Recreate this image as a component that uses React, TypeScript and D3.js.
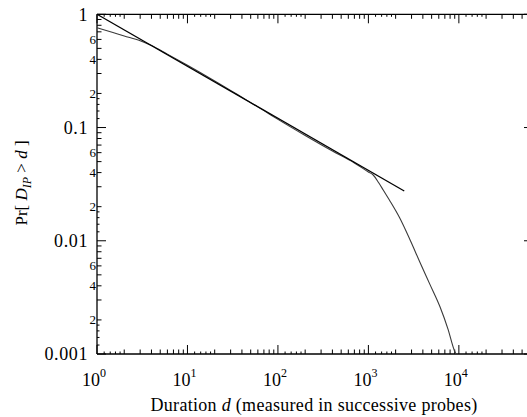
import React from "react";
import * as d3 from "d3";

// Empirical CCDF: duration d (probes) vs Pr[D_IP > d]
const durations = [1, 1.5, 2, 3, 4, 6, 10, 20, 40, 70, 100, 200, 400, 700, 1000, 1130, 1300, 1458, 1700, 2200, 2900, 3700, 4800, 6200, 7600, 8900, 9300];
const probs = [0.76, 0.69, 0.644, 0.585, 0.53, 0.445, 0.355, 0.258, 0.185, 0.141, 0.118, 0.085, 0.062, 0.0487, 0.0405, 0.0381, 0.0325, 0.0281, 0.023, 0.0161, 0.0101, 0.0065, 0.0041, 0.0026, 0.00165, 0.00108, 0.001];

// Power-law fit line endpoints
const fitX = [1, 2490];
const fitY = [1.0, 0.0275];

// Axis ticks
const xDecades = [0, 1, 2, 3, 4];
const yDecades = [0, -1, -2, -3];
const yMajorLabels = ["1", "0.1", "0.01", "0.001"];
const yMinorLabeled = [6, 4, 2];
const smallMultipliers = [1.2, 1.4, 1.6, 1.8];
const minorMultipliers = [2, 3, 4, 5, 6, 7, 8, 9];

const W = 527;
const H = 417;
const L = 97;
const R = 533;
const T = 14.3;
const B = 354;

export default function App() {
  const x = d3.scaleLog().domain([1, 66000]).range([L, R]);
  const y = d3.scaleLog().domain([0.001, 1]).range([B, T]);

  const font = "'Liberation Serif', 'Times New Roman', serif";

  const line = d3
    .line<number>()
    .x((_, i) => x(durations[i]))
    .y((_, i) => y(probs[i]))
    .curve(d3.curveMonotoneX);
  const curvePath = line(durations) || "";

  const fitPath = `M${x(fitX[0])},${y(fitY[0])}L${x(fitX[1])},${y(fitY[1])}`;

  const xTicks: { v: number; len: number }[] = [];
  for (let k = 0; k <= 4; k++) {
    const base = Math.pow(10, k);
    xTicks.push({ v: base, len: 9 });
    smallMultipliers.forEach((m) => xTicks.push({ v: m * base, len: 2.5 }));
    minorMultipliers.forEach((m) => xTicks.push({ v: m * base, len: 4.5 }));
  }
  const yTicks: { v: number; len: number }[] = [];
  for (let k = -3; k <= 0; k++) {
    const base = Math.pow(10, k);
    yTicks.push({ v: base, len: 9 });
    if (k < 0) {
      smallMultipliers.forEach((m) => yTicks.push({ v: m * base, len: 2.5 }));
      minorMultipliers.forEach((m) => yTicks.push({ v: m * base, len: 4.5 }));
    }
  }
  const xTickList = xTicks.filter((t) => x(t.v) <= R + 0.5);

  return (
    <svg
      width={W}
      height={H}
      style={{ position: "absolute", left: 0, top: 0, background: "#fff" }}
    >
      <rect x={0} y={0} width={W} height={H} fill="#fff" />
      {/* frame */}
      <g stroke="#000" strokeWidth={1.3} fill="none">
        <line x1={L} y1={T} x2={R} y2={T} />
        <line x1={L} y1={B} x2={R} y2={B} />
        <line x1={L} y1={T} x2={L} y2={B} />
        <line x1={R} y1={T} x2={R} y2={B} />
      </g>
      {/* ticks */}
      <g stroke="#000" strokeWidth={1}>
        {xTickList.map((t, i) => (
          <g key={i}>
            <line x1={x(t.v)} x2={x(t.v)} y1={B} y2={B - t.len} />
            <line x1={x(t.v)} x2={x(t.v)} y1={T} y2={T + t.len} />
          </g>
        ))}
        {yTicks.map((t, i) => (
          <g key={i}>
            <line x1={L} x2={L + t.len} y1={y(t.v)} y2={y(t.v)} />
            <line x1={R} x2={R - t.len} y1={y(t.v)} y2={y(t.v)} />
          </g>
        ))}
      </g>
      {/* y labels */}
      <g fontFamily={font} fill="#000">
        {yDecades.map((k, i) => (
          <text
            key={k}
            x={L - 9}
            y={y(Math.pow(10, k))}
            dy="0.35em"
            textAnchor="end"
            fontSize={18}
            letterSpacing={0.6}
          >
            {yMajorLabels[i]}
          </text>
        ))}
        {yDecades.slice(0, 3).map((k) =>
          yMinorLabeled.map((m) => (
            <text
              key={`${k}-${m}`}
              x={L - 1}
              y={y(m * Math.pow(10, k - 1))}
              dy="0.35em"
              textAnchor="end"
              fontSize={13}
            >
              {m}
            </text>
          ))
        )}
      </g>
      {/* x labels */}
      <g fontFamily={font} fill="#000">
        {xDecades.map((k) => (
          <text key={k} x={x(Math.pow(10, k)) - 3} y={386} textAnchor="middle" fontSize={18}>
            10
            <tspan dy={-9} fontSize={12}>
              {k}
            </tspan>
          </text>
        ))}
      </g>
      {/* curves */}
      <path d={curvePath} fill="none" stroke="#3a3a3a" strokeWidth={1.1} />
      <path d={fitPath} fill="none" stroke="#000" strokeWidth={1.3} />
      {/* axis titles */}
      <text
        x={314}
        y={411}
        textAnchor="middle"
        fontFamily={font}
        fontSize={18}
        letterSpacing={0.3}
        fill="#000"
      >
        Duration <tspan fontStyle="italic">d</tspan> (measured in successive probes)
      </text>
      <text
        transform="translate(27,183) rotate(-90)"
        textAnchor="middle"
        fontFamily={font}
        fontSize={17}
        fill="#000"
      >
        Pr[ <tspan fontStyle="italic">D</tspan>
        <tspan fontStyle="italic" fontSize={12} dy={4}>
          IP
        </tspan>
        <tspan dy={-4}> &gt; </tspan>
        <tspan fontStyle="italic">d</tspan> ]
      </text>
    </svg>
  );
}
